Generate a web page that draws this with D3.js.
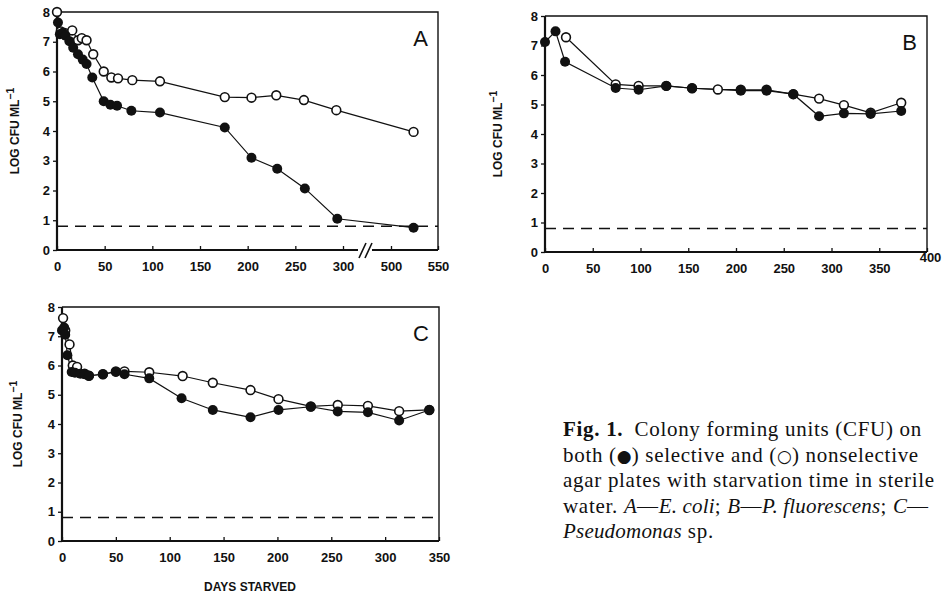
<!DOCTYPE html>
<html lang="en">
<head>
    <meta charset="UTF-8">
    <title>Fig. 1 CFU starvation</title>
    <style>
        html,body {
            margin : 0px;
            padding: 0px;
            background: #fff;
        }
        .tick text { font-family: "Liberation Sans", Arial, sans-serif; font-weight: bold; font-size: 13px; fill: #111; }
        .tick line { stroke: #111; stroke-width: 1.3; }
    </style>
    <script src="https://cdn.jsdelivr.net/npm/d3@7"></script>
</head>
<body>
<svg></svg>
<script>
    // ---- data (days starved, log CFU/ml) ----
    // A: E. coli
    const aSelective = [[1,7.65],[3,7.25],[6,7.3],[9,7.2],[13,7.02],[17,6.8],[22,6.58],[27,6.4],[31,6.25],[37,5.8],[49,5.0],[56,4.88],[63,4.85],[78,4.68],[108,4.62],[176,4.12],[204,3.1],[231,2.73],[260,2.07],[294,1.05],[524,0.75]]
    const aNonselective = [[0,8.0],[4,7.35],[8,7.3],[16,7.38],[22,7.05],[26,7.12],[31,7.05],[38,6.58],[49,6.0],[57,5.8],[64,5.77],[79,5.71],[108,5.67],[176,5.14],[204,5.12],[230,5.2],[259,5.04],[293,4.7],[524,3.97]]
    // B: P. fluorescens
    const bSelective = [[0,7.12],[11,7.48],[21,6.45],[74,5.56],[98,5.5],[127,5.63],[154,5.55],[205,5.47],[232,5.47],[260,5.35],[287,4.6],[313,4.7],[341,4.68],[373,4.78]]
    const bNonselective = [[22,7.28],[74,5.68],[98,5.63],[127,5.63],[154,5.55],[181,5.51],[205,5.5],[232,5.5],[260,5.35],[287,5.2],[313,4.98],[341,4.72],[373,5.06]]
    // C: Pseudomonas sp.
    const cSelective = [[0,7.2],[2,7.3],[3,7.05],[5,6.35],[9,5.78],[12,5.75],[17,5.72],[21,5.7],[25,5.65],[38,5.7],[50,5.78],[58,5.7],[81,5.56],[111,4.88],[140,4.48],[175,4.23],[201,4.48],[231,4.59],[256,4.43],[284,4.4],[313,4.12],[341,4.48]]
    const cNonselective = [[1,7.62],[3,7.2],[7,6.72],[10,6.0],[14,5.95],[21,5.72],[25,5.65],[38,5.7],[50,5.8],[58,5.8],[81,5.77],[112,5.64],[140,5.41],[175,5.16],[201,4.85],[231,4.6],[256,4.65],[284,4.62],[313,4.44],[341,4.48]]

    const yTicks = [0,1,2,3,4,5,6,7,8]
    const aXTicks = [0,50,100,150,200,250,300,500,550]
    const bXTicks = [0,50,100,150,200,250,300,350,400]
    const cXTicks = [0,50,100,150,200,250,300,350]
    const detectionLimit = 0.8

    const svg = d3.select('svg')
        .attr('width', 944)
        .attr('height', 597)

    const panel = (p) => {
        const x = p.x, y = p.y
        const g = svg.append('g')
        const [x0, x1] = [x.range()[0], x.range()[x.range().length-1]]
        const [y0, y1] = y.range()

        // axes
        g.append('g').attr('transform', `translate(0,${y0})`)
            .call(d3.axisBottom(x).tickValues(p.xTicks).tickSizeInner(-4).tickSizeOuter(0).tickPadding(12))
            .call(a => a.select('.domain').remove())
        g.append('g').attr('transform', `translate(${x0},0)`)
            .call(d3.axisLeft(y).tickValues(yTicks).tickSizeInner(4).tickSizeOuter(0).tickPadding(3))
            .call(a => a.select('.domain').remove())

        // frame: heavy left/bottom, thin top/right
        g.append('path').attr('d', `M${x0},${y1}V${y0}H${x1}`)
            .attr('fill','none').attr('stroke','#111').attr('stroke-width',2.2)
        g.append('path').attr('d', `M${x0},${y1}H${x1}V${y0}`)
            .attr('fill','none').attr('stroke','#111').attr('stroke-width',1.4)

        // detection limit
        g.append('line')
            .attr('x1', x0).attr('x2', x1)
            .attr('y1', y(detectionLimit)).attr('y2', y(detectionLimit))
            .attr('stroke','#111').attr('stroke-width',1.5)
            .attr('stroke-dasharray','11,7')

        const line = d3.line().x(d => x(d[0])).y(d => y(d[1]))
        g.append('path').attr('d', line(p.non)).attr('fill','none').attr('stroke','#111').attr('stroke-width',1.2)
        g.append('path').attr('d', line(p.sel)).attr('fill','none').attr('stroke','#111').attr('stroke-width',1.2)

        g.append('g').selectAll('circle').data(p.non).enter().append('circle')
            .attr('cx', d => x(d[0])).attr('cy', d => y(d[1])).attr('r', 4.4)
            .attr('fill','#fff').attr('stroke','#111').attr('stroke-width',1.6)
        g.append('g').selectAll('circle').data(p.sel).enter().append('circle')
            .attr('cx', d => x(d[0])).attr('cy', d => y(d[1])).attr('r', 5)
            .attr('fill','#111')

        // panel letter
        g.append('text').attr('x', x1 - 10).attr('y', y1 + 34)
            .attr('text-anchor','end')
            .style('font-family','"Liberation Sans", Arial, sans-serif')
            .style('font-size','22px').style('fill','#111')
            .text(p.letter)

        // y label
        const yl = g.append('text')
            .attr('transform', `translate(${p.labelX},${(y0+y1)/2}) rotate(-90)`)
            .attr('text-anchor','middle')
            .style('font-family','"Liberation Sans", Arial, sans-serif')
            .style('font-weight','bold').style('font-size','12px').style('fill','#111')
        yl.append('tspan').text('LOG CFU ML')
        yl.append('tspan').attr('dy', -5).style('font-size','10.5px').text('\u22121')
        return g
    }

    const xA = d3.scaleLinear().domain([0,300,500,550]).range([57,343,391,438])
    const gA = panel({x: xA, y: d3.scaleLinear().domain([0,8]).range([250,12]),
        xTicks: aXTicks, sel: aSelective, non: aNonselective, letter: 'A', labelX: 19})
    // axis break
    gA.append('rect').attr('x', 358).attr('y', 247).attr('width', 14).attr('height', 6).attr('fill','#fff')
    gA.append('path').attr('d', 'M359,258L366,243M365,258L372,243')
        .attr('stroke','#111').attr('stroke-width',1.6)

    const gB = panel({x: d3.scaleLinear().domain([0,400]).range([545,927]),
        y: d3.scaleLinear().domain([0,8]).range([252,16]),
        xTicks: bXTicks, sel: bSelective, non: bNonselective, letter: 'B', labelX: 502})
    gB.selectAll('.tick text').filter(d => d === 400).attr('y', 1).attr('x', 3)

    panel({x: d3.scaleLinear().domain([0,350]).range([62,439]),
        y: d3.scaleLinear().domain([0,8]).range([541,307]),
        xTicks: cXTicks, sel: cSelective, non: cNonselective, letter: 'C', labelX: 22})

    svg.append('text').attr('x', 250).attr('y', 591).attr('text-anchor','middle')
        .style('font-family','"Liberation Sans", Arial, sans-serif')
        .style('font-weight','bold').style('font-size','12px').style('fill','#111')
        .text('DAYS STARVED')

    // caption ('b' bold, 'i' italic, 's' symbol)
    const cap = svg.append('text')
        .style('font-family','"Liberation Serif", "Times New Roman", serif')
        .style('font-size','21px').style('letter-spacing','0.7px').style('fill','#111')
    const capLines = [
        [['Fig. 1.', 'b'], ['\u2002Colony forming units (CFU) on', '']],
        [['both (', ''], ['\u25CF', 's'], [') selective and (', ''], ['\u25CB', 's'], [') nonselective', '']],
        [['agar plates with starvation time in sterile', '']],
        [['water. ', ''], ['A', 'i'], ['\u2014', ''], ['E. coli', 'i'], ['; ', ''], ['B', 'i'], ['\u2014', ''], ['P. fluorescens', 'i'], ['; ', ''], ['C', 'i'], ['\u2014', '']],
        [['Pseudomonas', 'i'], [' sp.', '']]
    ]
    capLines.forEach((parts, i) => {
        parts.forEach((pt, j) => {
            const t = cap.append('tspan').text(pt[0])
            if (j === 0) t.attr('x', 563).attr('y', 436 + i * 25.5)
            if (pt[1] === 'b') t.style('font-weight','bold')
            if (pt[1] === 'i') t.style('font-style','italic').style('letter-spacing','0.2px')
            if (pt[1] === 's') t.style('font-family','"DejaVu Sans", sans-serif').style('font-size','17px').style('letter-spacing','0px')
        })
    })
</script>
</body>
</html>
